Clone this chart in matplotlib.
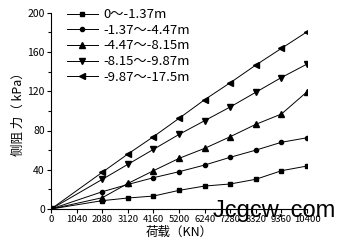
import matplotlib
matplotlib.use("Agg")
import matplotlib.pyplot as plt
from matplotlib.ticker import MultipleLocator

plt.rcParams['font.family'] = ['Noto Sans CJK SC', 'DejaVu Sans']

loads = [0, 2080, 3120, 4160, 5200, 6240, 7280, 8320, 9360, 10400]
tick_labels = ["0", "1040", "2080", "3120", "4160", "5200", "6240", "7280", "8320", "9360", "10400"]
series_names = ["0～-1.37m", "-1.37～-4.47m", "-4.47～-8.15m", "-8.15～-9.87m", "-9.87～-17.5m"]
s1 = [0, 8.5, 11.2, 13.2, 19, 23.4, 25.5, 30.3, 39, 43.8]
s2 = [0, 17.6, 25, 31.9, 38, 44.8, 52.7, 60, 68, 72.6]
s3 = [0, 11.5, 26, 39, 51.6, 61.8, 73.7, 86.3, 96.8, 119.5]
s4 = [0, 30.2, 45.5, 60.8, 76, 90, 104, 119, 134, 147.7]
s5 = [0, 37.4, 56, 73.7, 92.4, 111.4, 128.7, 146.7, 163.7, 180.6]
series = [s1, s2, s3, s4, s5]
markers = ['s', 'o', '^', 'v', '<']
msizes = [3, 3, 4.2, 4.2, 4.2]

fig = plt.figure(figsize=(3.45, 2.5), dpi=100)
ax = fig.add_axes([0.148, 0.164, 0.742, 0.785])

for vals, name, m, ms in zip(series, series_names, markers, msizes):
    ax.plot(loads, vals, color='black', lw=0.7, marker=m, ms=ms, label=name)

ax.set_xlim(0, 10400)
ax.set_ylim(0, 200)
ax.set_xticks([i * 1040 for i in range(len(tick_labels))])
ax.set_xticklabels(tick_labels)
ax.set_yticks([0, 40, 80, 120, 160, 200])
ax.yaxis.set_minor_locator(MultipleLocator(20))
ax.tick_params(axis='both', which='major', labelsize=7.5, length=3, width=0.8, pad=1.5, direction='out')
ax.tick_params(axis='y', which='minor', length=2, width=0.8)
ax.tick_params(axis='x', labelsize=6.8)
for sp in ['top', 'right']:
    ax.spines[sp].set_visible(False)
for sp in ['left', 'bottom']:
    ax.spines[sp].set_linewidth(0.8)

ax.set_xlabel("荷载（KN）", fontsize=9, labelpad=1)
ax.set_ylabel("侧阻 力（ kPa）", fontsize=9, labelpad=2)

ax.legend(loc='upper left', bbox_to_anchor=(0.04, 1.05), frameon=False, fontsize=9.5,
          handlelength=2.4, labelspacing=0.2, handletextpad=0.4, borderaxespad=0)

fig.text(0.972, 0.13, "Jcgcw. com", fontsize=17, color='black', family='Liberation Sans',
         ha='right', va='baseline')

fig.savefig("out.png", dpi=100)
